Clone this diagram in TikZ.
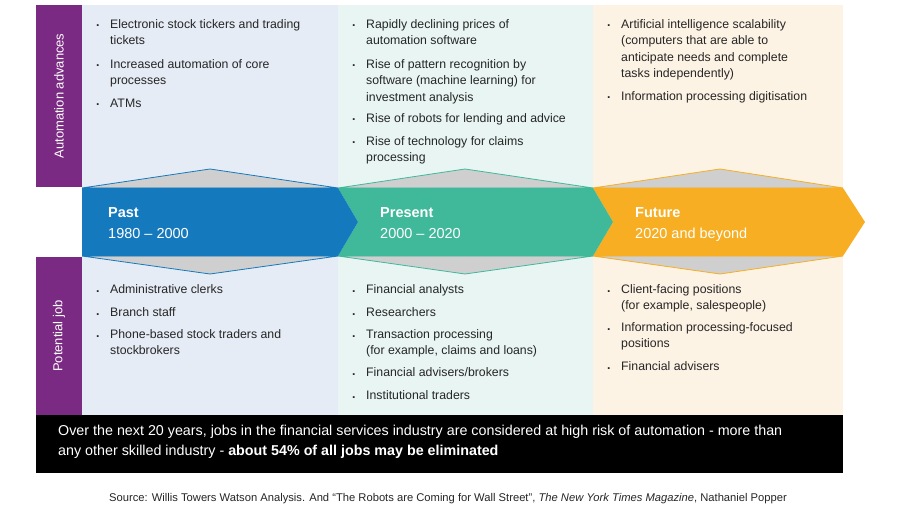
\documentclass[tikz,border=0pt]{standalone}
\usepackage{fontspec}
\setmainfont{Liberation Sans}
\begin{document}
\begin{tikzpicture}[x=1pt,y=-1pt,
  itm/.style={anchor=north west,inner sep=0pt,align=left,font=\fontsize{12.3}{16.5}\selectfont,text=black!85},
  bul/.style={anchor=base west,inner sep=0pt,font=\fontsize{12.3}{16.5}\selectfont,text=black!85},
  hd/.style={anchor=base west,inner sep=0pt,text=white,font=\fontsize{14.5}{21}\selectfont},
  bt/.style={anchor=base west,inner sep=0pt,text=white,font=\fontsize{14.3}{20}\selectfont}]
\definecolor{pu}{HTML}{7B2A83}
\definecolor{bpa}{HTML}{E6ECF5}
\definecolor{bpr}{HTML}{E8F5F2}
\definecolor{bfu}{HTML}{FDF3E4}
\definecolor{cpa}{HTML}{1579BE}
\definecolor{cpr}{HTML}{40B99B}
\definecolor{cfu}{HTML}{F7AE22}
\definecolor{gr}{HTML}{CFCFCF}
\useasboundingbox (0,0) rectangle (900,524);
\fill[white] (0,0) rectangle (900,524);
\fill[bpa] (82,5) rectangle (338,415);
\fill[bpr] (338,5) rectangle (593,415);
\fill[bfu] (593,5) rectangle (843,415);
\fill[pu] (36,5) rectangle (82,187);
\fill[pu] (36,257) rectangle (82,415);
\node[rotate=90,text=white,font=\fontsize{13}{15}\selectfont] (la) at (59,96) {Automation advances};
\node[rotate=90,text=white,font=\fontsize{13}{15}\selectfont] (lb) at (59,336) {Potential job};
% triangles
\foreach \a/\b/\m/\c in {82/338/210/cpa,338/593/465/cpr,593/843/720/cfu}{
  \filldraw[fill=gr,draw=\c,line width=0.8pt] (\a,188) -- (\m,169) -- (\b,188) -- cycle;
  \filldraw[fill=gr,draw=\c,line width=0.8pt] (\a,256) -- (\m,274) -- (\b,256) -- cycle;
}
% chevrons
\fill[cfu] (593,188) -- (843,188) -- (865,222) -- (843,256) -- (593,256) -- (613,222) -- cycle;
\fill[cpr] (338,188) -- (593,188) -- (613,222) -- (593,256) -- (338,256) -- (358,222) -- cycle;
\fill[cpa] (82,188) -- (338,188) -- (358,222) -- (338,256) -- (82,256) -- cycle;
\node[hd] (h1a) at (108,217) {\textbf{Past}};
\node[hd] (h1b) at (108,238) {1980 -- 2000};
\node[hd] (h2a) at (380,217) {\textbf{Present}};
\node[hd] (h2b) at (380,238) {2000 -- 2020};
\node[hd] (h3a) at (635,217) {\textbf{Future}};
\node[hd] (h3b) at (635,238) {2020 and beyond};
% items
\foreach \x/\y/\t in {
 110/28/{Electronic stock tickers and trading\\tickets},
 110/68/{Increased automation of core\\processes},
 110/107/{ATMs},
 366/28/{Rapidly declining prices of\\automation software},
 366/68/{Rise of pattern recognition by\\software (machine learning) for\\investment analysis},
 366/122/{Rise of robots for lending and advice},
 366/145/{Rise of technology for claims\\processing},
 621/28/{Artificial intelligence scalability\\(computers that are able to\\anticipate needs and complete\\tasks independently)},
 621/100/{Information processing digitisation},
 110/293/{Administrative clerks},
 110/316/{Branch staff},
 110/338/{Phone-based stock traders and\\stockbrokers},
 366/293/{Financial analysts},
 366/316/{Researchers},
 366/338/{Transaction processing\\(for example, claims and loans)},
 366/376/{Financial advisers/brokers},
 366/399/{Institutional traders},
 621/293/{Client-facing positions\\(for example, salespeople)},
 621/331/{Information processing-focused\\positions},
 621/370/{Financial advisers}}{
 \node[itm] at (\x,\y-11.55) {\strut\t};
 \node[bul] at (\x-14,\y-1) {\textbf{.}};
}
\fill[black] (36,415) rectangle (843,473);
\node[bt] (bt1) at (58,435) {Over the next 20 years, jobs in the financial services industry are considered at high risk of automation - more than};
\node[bt] (bt2) at (58,455) {any other skilled industry - \textbf{about 54\% of all jobs may be eliminated}};
\node[anchor=base,inner sep=0pt,text=black!85,font=\fontsize{11.2}{13}\selectfont] (src) at (448,501) {Source: Willis Towers Watson Analysis. And ``The Robots are Coming for Wall Street'', \textit{The New York Times Magazine}, Nathaniel Popper};
\end{tikzpicture}
\end{document}
